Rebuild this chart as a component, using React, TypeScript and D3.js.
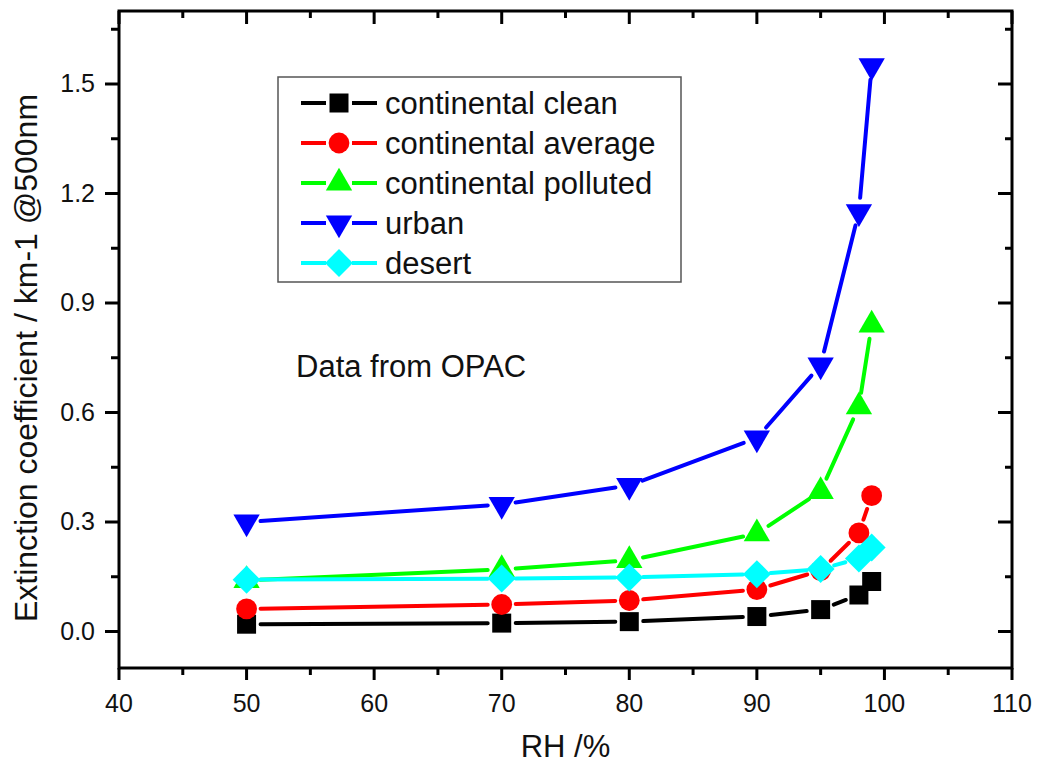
import React, { useEffect, useRef } from 'react';
import * as d3 from 'd3';

// RH values (%)
const rh = [50, 70, 80, 90, 95, 98, 99];

const seriesNames = ['continental clean', 'continental average', 'continental polluted', 'urban', 'desert'];
const cleanVals = [0.02, 0.023, 0.027, 0.041, 0.06, 0.1, 0.137];
const averageVals = [0.062, 0.074, 0.085, 0.115, 0.167, 0.27, 0.372];
const pollutedVals = [0.14, 0.17, 0.195, 0.268, 0.384, 0.616, 0.84];
const urbanVals = [0.3, 0.348, 0.4, 0.53, 0.73, 1.15, 1.55];
const desertVals = [0.142, 0.145, 0.148, 0.157, 0.171, 0.2, 0.23];

const xTicks = [40, 50, 60, 70, 80, 90, 100, 110];
const yTicks = [0, 0.3, 0.6, 0.9, 1.2, 1.5];

const colors = ['#000000', '#ff0000', '#00ff00', '#0000ff', '#00ffff'];
const shapes = ['square', 'circle', 'up', 'down', 'diamond'];

const markerPath = (shape: string) => {
  switch (shape) {
    case 'square':
      return d3.symbol().type(d3.symbolSquare).size(361)();
    case 'circle':
      return d3.symbol().type(d3.symbolCircle).size(340)();
    case 'up':
    case 'down':
      return d3.symbol().type(d3.symbolTriangle).size(300)();
    default:
      return d3.symbol().type(d3.symbolSquare).size(390)();
  }
};
const markerRotate = (shape: string) => (shape === 'down' ? 180 : shape === 'diamond' ? 45 : 0);

const App = () => {
  const ref = useRef<SVGSVGElement>(null);

  useEffect(() => {
    const svgWidth = 1037;
    const svgHeight = 767;
    const left = 119, right = 1012, top = 11, bottom = 668;
    const font = 'Liberation Sans, Arial, sans-serif';

    const svg = d3.select(ref.current).attr('width', svgWidth).attr('height', svgHeight);
    svg.selectAll('*').remove();

    const x = d3.scaleLinear().domain([40, 110]).range([left, right]);
    const y = d3.scaleLinear().domain([-0.1, 1.7]).range([bottom, top]);

    const allVals = [cleanVals, averageVals, pollutedVals, urbanVals, desertVals];

    // series: line segments with gaps around markers, then markers
    const gap = 14;
    allVals.forEach((vals, si) => {
      const g = svg.append('g');
      const pts = rh.map((r, i) => [x(r), y(vals[i])]);
      for (let i = 0; i < pts.length - 1; i++) {
        const [x1, y1] = pts[i];
        const [x2, y2] = pts[i + 1];
        const len = Math.hypot(x2 - x1, y2 - y1);
        if (len <= gap * 2) continue;
        const ux = (x2 - x1) / len, uy = (y2 - y1) / len;
        g.append('line')
          .attr('x1', x1 + ux * gap).attr('y1', y1 + uy * gap)
          .attr('x2', x2 - ux * gap).attr('y2', y2 - uy * gap)
          .attr('stroke', colors[si])
          .attr('stroke-width', 4)
          .attr('stroke-linecap', 'round');
      }
      g.selectAll('path.marker')
        .data(pts)
        .enter()
        .append('path')
        .attr('class', 'marker')
        .attr('d', markerPath(shapes[si]))
        .attr('transform', d => `translate(${d[0]},${d[1]}) rotate(${markerRotate(shapes[si])})`)
        .attr('fill', colors[si]);
    });

    // frame
    const axisColor = '#000';
    svg.append('rect')
      .attr('x', left).attr('y', top)
      .attr('width', right - left).attr('height', bottom - top)
      .attr('fill', 'none').attr('stroke', axisColor).attr('stroke-width', 3);

    const xMinor = d3.range(45, 110, 10);
    const yMinor = d3.range(0.15, 1.7, 0.3);

    const ticks = svg.append('g').attr('stroke', axisColor).attr('stroke-width', 3);
    xTicks.forEach(t => {
      ticks.append('line').attr('x1', x(t)).attr('x2', x(t)).attr('y1', bottom).attr('y2', bottom + 12);
      ticks.append('line').attr('x1', x(t)).attr('x2', x(t)).attr('y1', top).attr('y2', top + 13);
    });
    xMinor.forEach(t => {
      ticks.append('line').attr('x1', x(t)).attr('x2', x(t)).attr('y1', bottom).attr('y2', bottom + 7);
      ticks.append('line').attr('x1', x(t)).attr('x2', x(t)).attr('y1', top).attr('y2', top + 7);
    });
    yTicks.forEach(t => {
      ticks.append('line').attr('x1', left - 14).attr('x2', left).attr('y1', y(t)).attr('y2', y(t));
      ticks.append('line').attr('x1', right - 14).attr('x2', right).attr('y1', y(t)).attr('y2', y(t));
    });
    yMinor.forEach(t => {
      ticks.append('line').attr('x1', left - 8).attr('x2', left).attr('y1', y(t)).attr('y2', y(t));
      ticks.append('line').attr('x1', right - 7).attr('x2', right).attr('y1', y(t)).attr('y2', y(t));
    });

    // tick labels
    svg.append('g').selectAll('text')
      .data(xTicks)
      .enter()
      .append('text')
      .attr('x', d => x(d))
      .attr('y', 712)
      .attr('text-anchor', 'middle')
      .attr('font-family', font)
      .attr('font-size', 25)
      .attr('fill', '#111')
      .text(d => d);

    svg.append('g').selectAll('text')
      .data(yTicks)
      .enter()
      .append('text')
      .attr('x', 95)
      .attr('y', d => y(d) + 8)
      .attr('text-anchor', 'end')
      .attr('font-family', font)
      .attr('font-size', 25)
      .attr('fill', '#111')
      .text(d => d3.format('.1f')(d));

    // axis titles
    svg.append('text')
      .attr('x', (left + right) / 2)
      .attr('y', 757)
      .attr('text-anchor', 'middle')
      .attr('font-family', font)
      .attr('font-size', 31)
      .attr('fill', '#111')
      .text('RH /%');

    svg.append('text')
      .attr('transform', 'translate(37,358) rotate(-90)')
      .attr('text-anchor', 'middle')
      .attr('font-family', font)
      .attr('font-size', 32)
      .attr('fill', '#111')
      .text('Extinction coefficient / km-1 @500nm');

    // annotation
    svg.append('text')
      .attr('x', 296)
      .attr('y', 377)
      .attr('font-family', font)
      .attr('font-size', 31)
      .attr('fill', '#111')
      .text('Data from OPAC');

    // legend
    const legend = svg.append('g');
    legend.append('rect')
      .attr('x', 278).attr('y', 77)
      .attr('width', 403).attr('height', 205)
      .attr('fill', '#fff').attr('stroke', '#555').attr('stroke-width', 1.5);
    seriesNames.forEach((name, i) => {
      const cy = 103 + i * 40;
      const row = legend.append('g');
      row.append('line').attr('x1', 301).attr('x2', 326).attr('y1', cy).attr('y2', cy)
        .attr('stroke', colors[i]).attr('stroke-width', 4);
      row.append('line').attr('x1', 352).attr('x2', 377).attr('y1', cy).attr('y2', cy)
        .attr('stroke', colors[i]).attr('stroke-width', 4);
      row.append('path')
        .attr('d', markerPath(shapes[i]))
        .attr('transform', `translate(339,${cy}) rotate(${markerRotate(shapes[i])})`)
        .attr('fill', colors[i]);
      row.append('text')
        .attr('x', 385)
        .attr('y', cy + 11)
        .attr('font-family', font)
        .attr('font-size', 31)
        .attr('fill', '#111')
        .text(name);
    });
  }, []);

  return <svg ref={ref} style={{ position: 'absolute', left: 0, top: 0 }} />;
};

export default App;
